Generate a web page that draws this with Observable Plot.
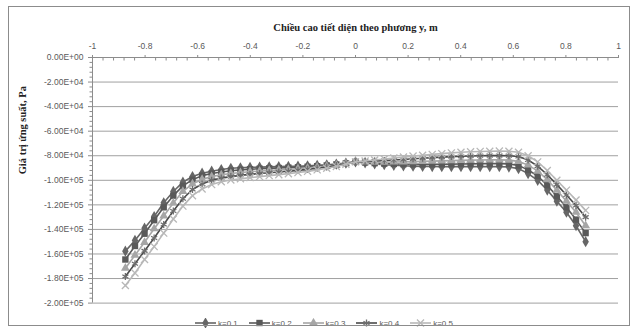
<!DOCTYPE html>
<html>
<head>
<meta charset="utf-8">
<script src="https://cdn.jsdelivr.net/npm/d3@7"></script>
<script src="https://cdn.jsdelivr.net/npm/@observablehq/plot@0.6"></script>
<style>
  body { margin: 0; background: #fff; }
  #wrap { position: relative; width: 635px; height: 334px; overflow: hidden; }
  #border { position: absolute; left: 8px; top: 6px; width: 620px; height: 318px; border: 1px solid #8c8c8c; pointer-events: none; }
  #legend { display: flex; justify-content: flex-start; align-items: center; height: 22px; padding-left: 195px; font-family: "Liberation Sans", sans-serif; font-size: 8px; color: #595959; }
  .item { display: flex; align-items: center; margin-right: 11px; }
  .item svg { margin-right: 2px; }
</style>
</head>
<body>
<div id="wrap">
  <div id="chart"></div>
  <div id="legend"></div>
  <div id="border"></div>
</div>
<script>
// x positions (m)
const xs = [-0.875,-0.8385,-0.8021,-0.7656,-0.7292,-0.6927,-0.6563,-0.6198,-0.5833,-0.5469,-0.5104,-0.4740,
  -0.4375,-0.4010,-0.3646,-0.3281,-0.2917,-0.2552,-0.2188,-0.1823,-0.1458,-0.1094,-0.0729,-0.0365,0,
  0.0365,0.0729,0.1094,0.1458,0.1823,0.2188,0.2552,0.2917,0.3281,0.3646,0.4010,0.4375,0.4740,0.5104,0.5469,0.5833,
  0.6198,0.6563,0.6927,0.7292,0.7656,0.8021,0.8385,0.875];

const kLabels = ["k=0.1","k=0.2","k=0.3","k=0.4","k=0.5"];

// stress values, in units of 1e5 Pa
const k1 = [-1.577,-1.490,-1.390,-1.295,-1.183,-1.091,-1.015,-0.969,-0.942,-0.926,-0.912,-0.902,
  -0.898,-0.895,-0.893,-0.891,-0.889,-0.887,-0.885,-0.882,-0.878,-0.874,-0.868,-0.860,-0.850,
  -0.858,-0.866,-0.873,-0.878,-0.882,-0.885,-0.887,-0.888,-0.889,-0.889,-0.889,-0.889,-0.889,-0.889,-0.889,-0.892,
  -0.905,-0.945,-1.000,-1.080,-1.170,-1.260,-1.370,-1.500];
const k2 = [-1.645,-1.535,-1.435,-1.325,-1.220,-1.125,-1.045,-0.995,-0.962,-0.945,-0.932,-0.922,
  -0.915,-0.910,-0.906,-0.903,-0.900,-0.897,-0.894,-0.890,-0.885,-0.879,-0.871,-0.862,-0.850,
  -0.855,-0.860,-0.864,-0.867,-0.869,-0.870,-0.870,-0.870,-0.869,-0.868,-0.867,-0.866,-0.865,-0.864,-0.864,-0.866,
  -0.880,-0.915,-0.965,-1.040,-1.130,-1.220,-1.320,-1.430];
const k3 = [-1.716,-1.610,-1.505,-1.395,-1.290,-1.185,-1.090,-1.030,-0.992,-0.970,-0.955,-0.945,
  -0.937,-0.930,-0.925,-0.920,-0.915,-0.911,-0.906,-0.900,-0.893,-0.885,-0.876,-0.865,-0.850,
  -0.851,-0.852,-0.852,-0.851,-0.850,-0.848,-0.846,-0.844,-0.842,-0.840,-0.838,-0.836,-0.835,-0.834,-0.834,-0.836,
  -0.846,-0.875,-0.925,-0.995,-1.080,-1.170,-1.260,-1.370];
const k4 = [-1.783,-1.680,-1.575,-1.470,-1.360,-1.250,-1.150,-1.075,-1.030,-1.000,-0.982,-0.970,
  -0.960,-0.952,-0.945,-0.938,-0.932,-0.926,-0.919,-0.911,-0.902,-0.892,-0.880,-0.867,-0.850,
  -0.847,-0.843,-0.839,-0.835,-0.830,-0.825,-0.820,-0.815,-0.811,-0.807,-0.804,-0.802,-0.800,-0.799,-0.799,-0.800,
  -0.806,-0.835,-0.885,-0.955,-1.035,-1.120,-1.205,-1.300];
const k5 = [-1.857,-1.755,-1.645,-1.540,-1.430,-1.315,-1.210,-1.125,-1.070,-1.035,-1.012,-0.997,
  -0.987,-0.978,-0.970,-0.962,-0.954,-0.946,-0.937,-0.927,-0.915,-0.902,-0.887,-0.870,-0.850,
  -0.843,-0.835,-0.827,-0.819,-0.811,-0.803,-0.796,-0.789,-0.783,-0.777,-0.772,-0.768,-0.765,-0.763,-0.762,-0.763,
  -0.772,-0.800,-0.850,-0.920,-1.000,-1.080,-1.160,-1.245];

const xTicks = [-1,-0.8,-0.6,-0.4,-0.2,0,0.2,0.4,0.6,0.8,1];
const xTickLabels = ["-1","-0.8","-0.6","-0.4","-0.2","0","0.2","0.4","0.6","0.8","1"];
const yTicks = [0,-20000,-40000,-60000,-80000,-100000,-120000,-140000,-160000,-180000,-200000];
const yTickLabels = ["0.00E+00","-2.00E+04","-4.00E+04","-6.00E+04","-8.00E+04","-1.00E+05","-1.20E+05","-1.40E+05","-1.60E+05","-1.80E+05","-2.00E+05"];

const xTitle = "Chiều cao tiết diện theo phương y, m";
const yTitle = "Giá trị ứng suất, Pa";

const seriesValues = [k1,k2,k3,k4,k5];
const styles = [
  {color:"#666666", line:"#666666", symbol:"diamond", filled:true, r:3.4},
  {color:"#595959", line:"#595959", symbol:"square", filled:true, r:3.6},
  {color:"#a6a6a6", line:"#a6a6a6", symbol:"triangle", filled:true, r:3.3},
  {color:"#6e6e6e", line:"#4a4a4a", symbol:"asterisk", filled:false, r:3.3},
  {color:"#b8b8b8", line:"#b8b8b8", symbol:"times", filled:false, r:3.3}
];
const d3Symbols = {diamond: d3.symbolDiamond, square: d3.symbolSquare, triangle: d3.symbolTriangle, asterisk: d3.symbolAsterisk, times: d3.symbolTimes};

const xMap = new Map(xTicks.map((d,i)=>[d, xTickLabels[i]]));
const yMap = new Map(yTicks.map((d,i)=>[d, yTickLabels[i]]));
const xMinor = d3.range(-50, 51, 2).map(d => d/50).filter(d => !xTicks.some(t => Math.abs(t-d) < 1e-9));
const yMinor = d3.range(0, 51).map(d => -d*4000).filter(d => d % 20000 !== 0);

const seriesMarks = [];
seriesValues.forEach((vals, s) => {
  const st = styles[s];
  const rows = vals.map((v,i) => ({x: xs[i], v: v*1e5, k: kLabels[s]}));
  seriesMarks.push(Plot.line(rows, {x:"x", y:"v", stroke: st.line, strokeWidth: 1.6}));
  if (st.filled) {
    seriesMarks.push(Plot.dot(rows, {x:"x", y:"v", symbol: st.symbol, r: st.r, fill: st.color, stroke: "none"}));
  } else {
    seriesMarks.push(Plot.dot(rows, {x:"x", y:"v", symbol: st.symbol, r: st.r, stroke: st.color, strokeWidth: 1.3}));
  }
});

const chart = Plot.plot({
  width: 635,
  height: 312,
  marginTop: 57,
  marginLeft: 92,
  marginRight: 17,
  marginBottom: 9.4,
  x: {domain: [-1, 1], label: null},
  y: {domain: [-200000, 0], label: null},
  style: {fontFamily: "Liberation Sans, sans-serif", fontSize: "8.5px", color: "#595959", background: "transparent"},
  marks: [
    Plot.gridY(yTicks.filter(d => d < 0), {stroke: "#a0a0a0", strokeOpacity: 1}),
    Plot.ruleY([0], {stroke: "#8c8c8c"}),
    Plot.ruleX([-1], {stroke: "#8c8c8c"}),
    Plot.axisY({ticks: yMinor, tickSize: 2.5, tickFormat: () => "", label: null, stroke: "#8c8c8c"}),
    Plot.axisY({ticks: yTicks, tickSize: 4, tickPadding: 5, tickFormat: d => yMap.get(d), label: null, stroke: "#8c8c8c", fill: "#595959"}),
    Plot.axisX({anchor: "top", ticks: xMinor, tickSize: -2.5, tickFormat: () => "", label: null, stroke: "#8c8c8c"}),
    Plot.axisX({anchor: "top", ticks: xTicks, tickSize: 3, tickPadding: 6, tickFormat: d => xMap.get(d), label: null, stroke: "#8c8c8c", fill: "#595959"}),
    ...seriesMarks,
    Plot.text([xTitle], {frameAnchor: "top", dy: -34, fontFamily: "Liberation Serif, serif", fontWeight: "bold", fontSize: 10.5, fill: "#222"}),
    Plot.text([yTitle], {frameAnchor: "left", rotate: -90, dx: -70, dy: -6, fontFamily: "Liberation Serif, serif", fontWeight: "bold", fontSize: 10.5, fill: "#222"})
  ]
});
document.getElementById("chart").appendChild(chart);

// legend
const legend = document.getElementById("legend");
const ns = "http://www.w3.org/2000/svg";
kLabels.forEach((lab, s) => {
  const st = styles[s];
  const item = document.createElement("div");
  item.className = "item";
  const svg = document.createElementNS(ns, "svg");
  svg.setAttribute("width", 21); svg.setAttribute("height", 10);
  const ln = document.createElementNS(ns, "line");
  ln.setAttribute("x1", 0); ln.setAttribute("x2", 21); ln.setAttribute("y1", 5); ln.setAttribute("y2", 5);
  ln.setAttribute("stroke", st.line); ln.setAttribute("stroke-width", 1.6);
  svg.appendChild(ln);
  const sym = d3.symbol(d3Symbols[st.symbol], st.r * st.r * Math.PI)();
  const p = document.createElementNS(ns, "path");
  p.setAttribute("d", sym);
  p.setAttribute("transform", "translate(10.5,5)");
  if (st.filled) { p.setAttribute("fill", st.color); }
  else { p.setAttribute("fill", "none"); p.setAttribute("stroke", st.color); p.setAttribute("stroke-width", 1.3); }
  svg.appendChild(p);
  item.appendChild(svg);
  const t = document.createElement("span");
  t.textContent = lab;
  item.appendChild(t);
  legend.appendChild(item);
});
</script>
</body>
</html>
